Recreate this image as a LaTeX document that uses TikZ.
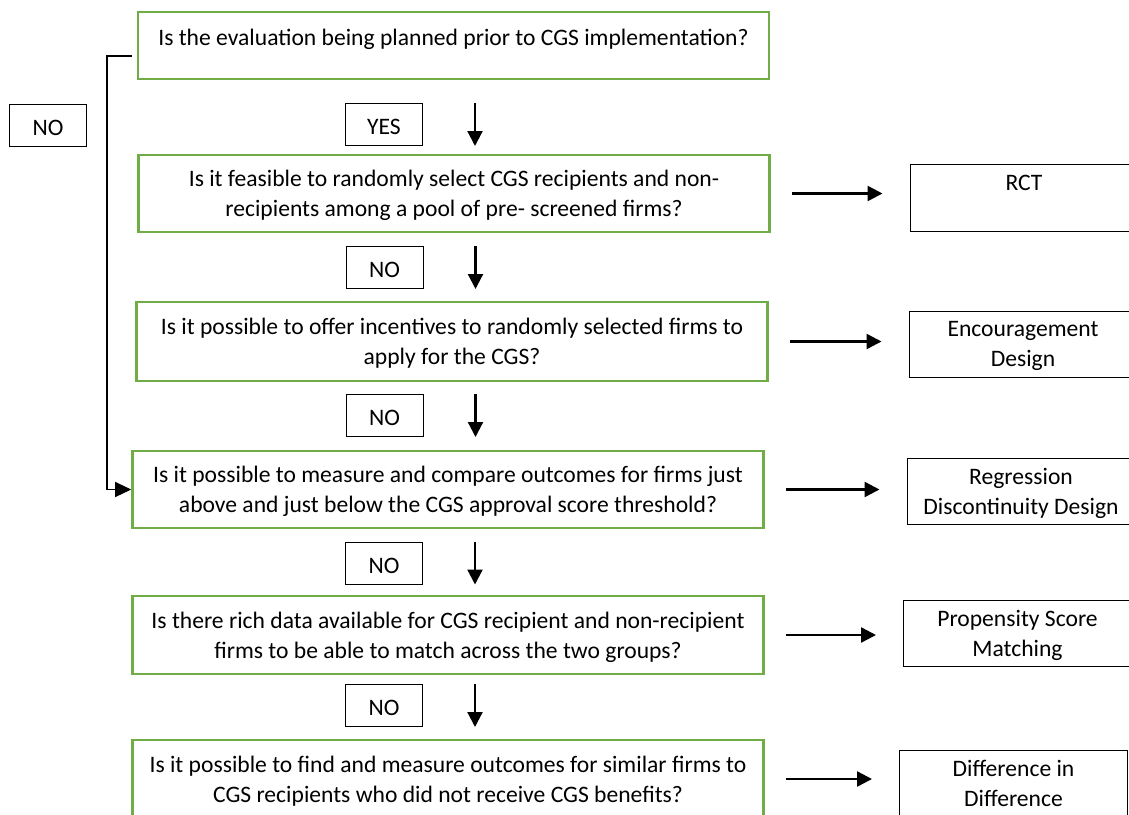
\documentclass[tikz,border=0pt]{standalone}
\usepackage{fontspec}
\setmainfont{Carlito}
\usepackage{tikz}
\usetikzlibrary{arrows.meta}
\definecolor{qgreen}{RGB}{112,173,71}
\begin{document}
\begin{tikzpicture}[x=1pt,y=-1pt,
  every node/.style={font=\fontsize{23.6}{30}\selectfont},
  question/.style={draw=qgreen,line width=2.6pt,minimum width=631pt,align=center,text depth=-5pt},
  method/.style={draw,line width=1pt,minimum width=228pt,minimum height=66pt,align=center,text depth=-3pt},
  answer/.style={draw,line width=1pt,minimum width=77pt,minimum height=42pt,text height=20pt,text depth=0pt},
  downarr/.style={line width=2.2pt,-{Triangle[length=15pt,width=15pt]}},
  rightarr/.style={line width=2.4pt,-{Triangle[length=15pt,width=15pt]},shorten <=21pt,shorten >=27pt},
  leftarr/.style={line width=1.3pt,-{Triangle[length=16pt,width=15pt]}}]
\useasboundingbox (0,0) rectangle (1129,814);
\fill[white] (0,0) rectangle (1129,814);
\clip (0,0) rectangle (1129,814);
\node[question,minimum height=67pt,text depth=17pt] (q1) at (453.5,45.5) {Is the evaluation being planned prior to CGS implementation?};
\node[question,minimum height=77pt] (q2) at (454,193.5) {Is it feasible to randomly select CGS recipients and non-\\recipients among a pool of pre- screened firms?};
\node[question,minimum height=79pt] (q3) at (452,341.5) {Is it possible to offer incentives to randomly selected firms to\\apply for the CGS?};
\node[question,minimum height=77pt] (q4) at (448,489.5) {Is it possible to measure and compare outcomes for firms just\\above and just below the CGS approval score threshold?};
\node[question,minimum height=78pt] (q5) at (448,635) {Is there rich data available for CGS recipient and non-recipient\\firms to be able to match across the two groups?};
\node[question,minimum height=78pt] (q6) at (448,779) {Is it possible to find and measure outcomes for similar firms to\\CGS recipients who did not receive CGS benefits?};
\node[method,minimum height=67pt] (rct) at (1024,197.5) {RCT\\\mbox{}};
\node[method] (enc) at (1023,344) {Encouragement\\Design};
\node[method] (rdd) at (1021,491) {Regression\\Discontinuity Design};
\node[method] (psm) at (1017.5,633) {Propensity Score\\Matching};
\node[method,minimum height=67pt] (did) at (1013.5,783.5) {Difference in\\Difference};
\node[answer] (nolong) at (48,125) {NO};
\node[answer] (yes) at (384,124.5) {YES};
\node[answer] (no1) at (384.5,267.5) {NO};
\node[answer] (no2) at (384.5,415.5) {NO};
\node[answer] (no3) at (384,563) {NO};
\node[answer] (no4) at (384,705.5) {NO};
\draw[downarr] ([xshift=52pt]yes.north east) -- ([xshift=52pt]yes.south east);
\draw[downarr] ([xshift=52pt]no1.north east) -- ([xshift=52pt]no1.south east);
\draw[downarr] ([xshift=52pt]no2.north east) -- ([xshift=52pt]no2.south east);
\draw[downarr] ([xshift=52pt]no3.north east) -- ([xshift=52pt]no3.south east);
\draw[downarr] ([xshift=52pt]no4.north east) -- ([xshift=52pt]no4.south east);
\draw[rightarr] (q2.east) -- (q2.east -| rct.west);
\draw[rightarr] (q3.east) -- (q3.east -| enc.west);
\draw[rightarr] (q4.east) -- (q4.east -| rdd.west);
\draw[rightarr] (q5.east) -- (q5.east -| psm.west);
\draw[rightarr] (q6.east) -- (q6.east -| did.west);
\coordinate (nostart) at (132,56);
\coordinate (nobend) at (107,56);
\draw[leftarr] (nostart) -- (nobend) |- (q4.west);
\end{tikzpicture}
\end{document}
